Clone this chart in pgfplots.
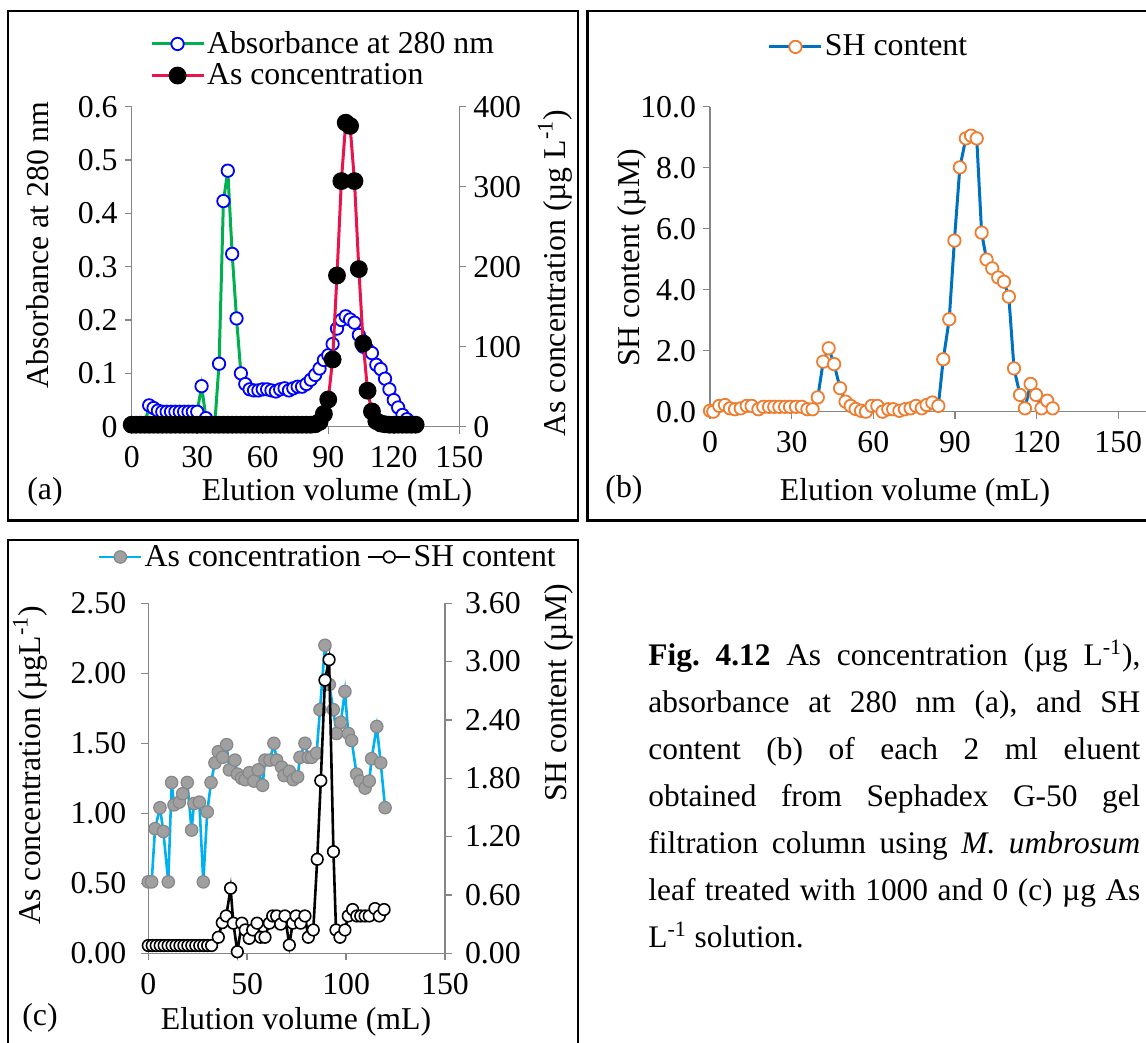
\documentclass[border=0pt]{standalone}
\usepackage{pgfplots}
\pgfplotsset{compat=1.18}
\usepackage{fontspec}
\setmainfont{Liberation Serif}
\definecolor{axgray}{RGB}{134,134,134}
\definecolor{exgreen}{RGB}{0,176,80}
\definecolor{exred}{RGB}{232,20,76}
\definecolor{exblue}{RGB}{0,112,192}
\definecolor{exorange}{RGB}{237,125,49}
\definecolor{exlblue}{RGB}{0,176,240}
\definecolor{dotgray}{RGB}{160,160,160}
\definecolor{dotedge}{RGB}{135,135,135}
\newcommand{\fs}{\fontsize{15.9pt}{18.5pt}\selectfont}
\pgfplotsset{
  excel/.style={
    scale only axis, clip=false,
    axis line style={axgray, line width=0.75pt},
    tick style={axgray, line width=0.75pt},
    major tick length=3.5pt,
    tick align=outside,
    tick label style={font=\fs, text=black},
    xticklabel style={yshift=-3pt},
    legend cell align=left,
    legend style={draw=none, fill=none, font=\fs, inner sep=0pt, outer sep=0pt, row sep=1.5pt, nodes={inner sep=1pt}},
  },
  longleg/.style={legend image code/.code={\draw[mark repeat=2,mark phase=2,##1] plot coordinates {(0pt,0pt) (13pt,0pt) (26pt,0pt)};}},
  shortleg/.style={legend image code/.code={\draw[mark repeat=2,mark phase=2,##1] plot coordinates {(0pt,0pt) (10.5pt,0pt) (21pt,0pt)};}},
  absstyle/.style={exgreen, line width=1.5pt, mark=*, mark size=3.1pt, mark options={draw=blue, fill=white, line width=0.9pt, solid}},
  asastyle/.style={exred, line width=1.5pt, mark=*, mark size=3.7pt, mark options={draw=black, fill=black, solid}},
  shbstyle/.style={exblue, line width=1.5pt, mark=*, mark size=3.1pt, mark options={draw=exorange, fill=white, line width=0.9pt, solid}},
  ascstyle/.style={exlblue, line width=1.3pt, mark=*, mark size=3.1pt, mark options={draw=dotedge, fill=dotgray, line width=0.6pt, solid}},
  shcstyle/.style={black, line width=1.3pt, mark=*, mark size=2.9pt, mark options={draw=black, fill=white, line width=0.8pt, solid}},
}
\begin{document}
\begin{tikzpicture}
\useasboundingbox (0,0) rectangle (573pt,521.5pt);
% frames
\draw[line width=1.1pt] (4pt,516pt) rectangle (289pt,261.25pt);
\draw[line width=1.1pt] (293.75pt,516pt) rectangle (574pt,261.25pt);
\draw[line width=1.1pt] (4pt,251.5pt) rectangle (289pt,-2pt);

% ---------------- panel (a) ----------------
\begin{axis}[excel, at={(65.85pt,308.15pt)}, anchor=south west, width=163.8pt, height=160pt,
  xmin=0, xmax=150, ymin=0, ymax=0.6,
  axis lines*=left,
  xtick={0,30,60,90,120,150}, xticklabels={0,30,60,90,120,150},
  ytick={0,0.1,0.2,0.3,0.4,0.5,0.6}, yticklabels={0,0.1,0.2,0.3,0.4,0.5,0.6}]
\addplot[absstyle] coordinates {
(0,0.005) (2,0.005) (4,0.005) (6,0.005) (8,0.04) (10,0.035) (12,0.03) (14,0.028) (16,0.028) (18,0.028)
(20,0.028) (22,0.028) (24,0.028) (26,0.028) (28,0.028) (30,0.028) (32,0.076) (34,0.016) (36,0.005) (38,0.003)
(40,0.118) (42,0.423) (44,0.48) (46,0.324) (48,0.203) (50,0.1) (52,0.08) (54,0.07) (56,0.068) (58,0.068)
(60,0.07) (62,0.07) (64,0.068) (66,0.066) (68,0.07) (70,0.072) (72,0.068) (74,0.072) (76,0.075) (78,0.075)
(80,0.08) (82,0.088) (84,0.097) (86,0.109) (88,0.125) (90,0.134) (92,0.155) (94,0.184) (96,0.2) (98,0.207)
(100,0.201) (102,0.195) (104,0.172) (106,0.15) (108,0.145) (110,0.138) (112,0.116) (114,0.108) (116,0.09) (118,0.07)
(120,0.05) (122,0.036) (124,0.022) (126,0.014) (128,0.008) (130,0.005)};
\end{axis}
\begin{axis}[excel, longleg, at={(65.85pt,308.15pt)}, anchor=south west, width=163.8pt, height=160pt,
  xmin=0, xmax=150, ymin=0, ymax=400,
  axis y line*=right, axis x line=none, xtick=\empty,
  ytick={0,100,200,300,400}, yticklabels={0,100,200,300,400},
  legend style={at={(axis description cs:0.056,1.1475)}, anchor=west}]
\addlegendimage{absstyle}
\addlegendentry{Absorbance at 280 nm}
\addplot[asastyle] coordinates {
(0,2.5) (2,2.5) (4,2.5) (6,2.5) (8,2.5) (10,2.5) (12,2.5) (14,2.5) (16,2.5) (18,2.5)
(20,2.5) (22,2.5) (24,2.5) (26,2.5) (28,2.5) (30,2.5) (32,2.5) (34,2.5) (36,2.5) (38,2.5)
(40,2.5) (42,2.5) (44,2.5) (46,2.5) (48,2.5) (50,2.5) (52,2.5) (54,2.5) (56,2.5) (58,2.5)
(60,2.5) (62,2.5) (64,2.5) (66,2.5) (68,2.5) (70,2.5) (72,2.5) (74,2.5) (76,2.5) (78,2.5)
(80,2.5) (82,2.5) (84,3) (86,6) (88,16) (90,34) (92,84) (94,189) (96,307) (98,380)
(100,376) (102,307) (104,197) (106,104) (108,45) (110,19) (112,7) (114,4) (116,3) (118,2.5)
(120,2.5) (122,2.5) (124,2.5) (126,2.5) (128,2.5) (130,2.5)};
\addlegendentry{As concentration}
\end{axis}
\node[font=\fs, rotate=90] at (19pt,399pt) {Absorbance at 280 nm};
\node[font=\fs, rotate=90] at (277.5pt,385pt) {As concentration (µg L\textsuperscript{-1})};
\node[font=\fs] at (168.5pt,275pt) {Elution volume (mL)};
\node[font=\fs] at (22.5pt,275.5pt) {(a)};

% ---------------- panel (b) ----------------
\begin{axis}[excel, longleg, at={(355pt,315.65pt)}, anchor=south west, width=218pt, height=152.5pt,
  xmin=0, xmax=160.2, ymin=0, ymax=10,
  axis lines*=left,
  xtick={0,30,60,90,120,150}, xticklabels={0,30,60,90,120,150},
  ytick={0,2,4,6,8,10}, yticklabels={0.0,2.0,4.0,6.0,8.0,10.0},
  legend style={at={(axis description cs:0.133,1.196)}, anchor=west}]
\addplot[shbstyle] coordinates {
(0,0.03) (1.2,0.0) (3.4,0.19) (5.5,0.22) (7.3,0.11) (9.2,0.08) (11.3,0.11) (13.5,0.19) (15.3,0.19) (17.8,0.08)
(19.6,0.16) (21.7,0.16) (23.6,0.16) (25.5,0.16) (27.6,0.16) (29.4,0.16) (31.6,0.16) (33.7,0.16) (35.8,0.08) (37.7,0.08)
(39.6,0.47) (41.6,1.64) (43.6,2.08) (45.6,1.56) (47.8,0.77) (49.8,0.33) (51.7,0.19) (53.5,0.09) (55.5,0.03) (57.3,0.0)
(59.4,0.19) (61.5,0.19) (63.4,0.0) (65.5,0.08) (67.3,0.08) (69.6,0.03) (71.6,0.08) (73.7,0.11) (75.7,0.19) (77.8,0.11)
(79.6,0.22) (81.7,0.30) (83.9,0.19) (85.7,1.72) (87.9,3.03) (89.8,5.61) (91.8,8.01) (94,8.96) (95.9,9.05) (98,8.96)
(99.8,5.87) (101.6,4.99) (103.7,4.70) (105.9,4.40) (108,4.26) (109.8,3.77) (111.7,1.42) (113.9,0.55) (115.7,0.11) (117.8,0.91)
(119.8,0.55) (121.8,0.11) (123.9,0.36) (125.9,0.11)};
\addlegendentry{SH content}
\end{axis}
\node[font=\fs, rotate=90] at (316pt,392.5pt) {SH content (µM)};
\node[font=\fs] at (457.5pt,275pt) {Elution volume (mL)};
\node[font=\fs] at (312pt,276.5pt) {(b)};

% ---------------- panel (c) ----------------
\begin{axis}[excel, at={(74.15pt,44.85pt)}, anchor=south west, width=148.35pt, height=175pt,
  xmin=0, xmax=150, ymin=0, ymax=2.5,
  axis lines*=left,
  xtick={0,50,100,150}, xticklabels={0,50,100,150},
  ytick={0,0.5,1,1.5,2,2.5}, yticklabels={0.00,0.50,1.00,1.50,2.00,2.50},
  yticklabel style={xshift=-4pt}]
\addplot[ascstyle] coordinates {
(0,0.51) (1.7,0.51) (3.4,0.89) (5.9,1.04) (7.6,0.87) (10.1,0.51) (11.8,1.22) (13,1.06) (15.7,1.08) (17.4,1.14)
(19.7,1.22) (21.9,0.88) (23.1,1.07) (25.8,1.08) (27.8,0.51) (29.8,1.01) (31.7,1.22) (33.7,1.36) (35.4,1.44) (37.6,1.40)
(39.6,1.49) (41,1.31) (43.8,1.38) (45,1.28) (47.2,1.25) (48.9,1.24) (51.1,1.29) (53.4,1.23) (55.6,1.31) (57.8,1.20)
(59,1.38) (61.5,1.38) (63.5,1.50) (64.9,1.38) (67.4,1.33) (68.6,1.27) (71.3,1.30) (73.3,1.24) (75.5,1.26) (76.7,1.40)
(79.2,1.50) (80.9,1.40) (82.6,1.40) (85.1,1.43) (86.8,1.74) (89.3,2.20) (91.5,1.92) (93.5,1.74) (95.2,1.57) (97.3,1.65)
(99.4,1.87) (101.1,1.57) (102.8,1.52) (105.3,1.28) (107,1.23) (109.6,1.18) (111.7,1.23) (112.9,1.39) (115.5,1.62) (117.5,1.36)
(119.7,1.04)};
\end{axis}
\begin{axis}[excel, shortleg, at={(74.15pt,44.85pt)}, anchor=south west, width=148.35pt, height=175pt,
  xmin=0, xmax=150, ymin=0, ymax=3.6,
  axis y line*=right, axis x line=none, xtick=\empty,
  ytick={0,0.6,1.2,1.8,2.4,3.0,3.6}, yticklabels={0.00,0.60,1.20,1.80,2.40,3.00,3.60},
  yticklabel style={xshift=3pt},
  legend columns=2,
  legend style={at={(axis description cs:-0.1695,1.1323)}, anchor=west, /tikz/every even column/.append style={column sep=2pt}}]
\addlegendimage{ascstyle}
\addlegendentry{As concentration}
\addplot[shcstyle] coordinates {
(0,0.08) (2,0.08) (4,0.08) (6,0.08) (8,0.08) (10,0.08) (12,0.08) (14,0.08) (16,0.08) (18,0.08)
(20,0.08) (22,0.08) (24,0.08) (26,0.08) (28,0.08) (30,0.08) (32,0.08) (35.4,0.165) (37.4,0.315) (39.4,0.384)
(41.6,0.669) (43,0.31) (45,0.016) (47.3,0.31) (49,0.24) (51,0.154) (52.8,0.24) (55,0.31) (56.8,0.165) (59,0.165)
(61.2,0.31) (62.9,0.384) (64.9,0.384) (66.9,0.30) (69.1,0.384) (71.3,0.085) (73,0.31) (74.7,0.384) (77,0.31) (79.2,0.384)
(80.9,0.165) (83.4,0.24) (85.4,0.967) (87.2,1.776) (89.3,2.81) (91.4,3.02) (93.6,1.045) (94.9,0.24) (96.9,0.165) (99.4,0.24)
(101.1,0.384) (103.3,0.45) (105.4,0.384) (107.4,0.384) (109.6,0.384) (111.7,0.384) (114.6,0.46) (116.8,0.384) (119.2,0.45)};
\addlegendentry{SH content}
\end{axis}
\node[font=\fs, rotate=90] at (15pt,139pt) {As concentration (µgL\textsuperscript{-1})};
\node[font=\fs, rotate=90] at (279.5pt,175pt) {SH content (µM)};
\node[font=\fs] at (148pt,10.5pt) {Elution volume (mL)};
\node[font=\fs] at (20pt,12.5pt) {(c)};

% caption
\node[anchor=north west, inner sep=0pt, text width=246pt, align=justify, font=\fontsize{15.7pt}{23.5pt}\selectfont] at (324pt,201.5pt)
{\frenchspacing\textbf{Fig. 4.12} As concentration (µg L\textsuperscript{-1}),\linebreak absorbance at 280 nm (a), and SH\linebreak content (b) of each 2 ml eluent\linebreak obtained from Sephadex G-50 gel\linebreak filtration column using \textit{M. umbrosum}\linebreak leaf treated with 1000 and 0 (c) µg As\linebreak L\textsuperscript{-1} solution.};
\end{tikzpicture}
\end{document}
